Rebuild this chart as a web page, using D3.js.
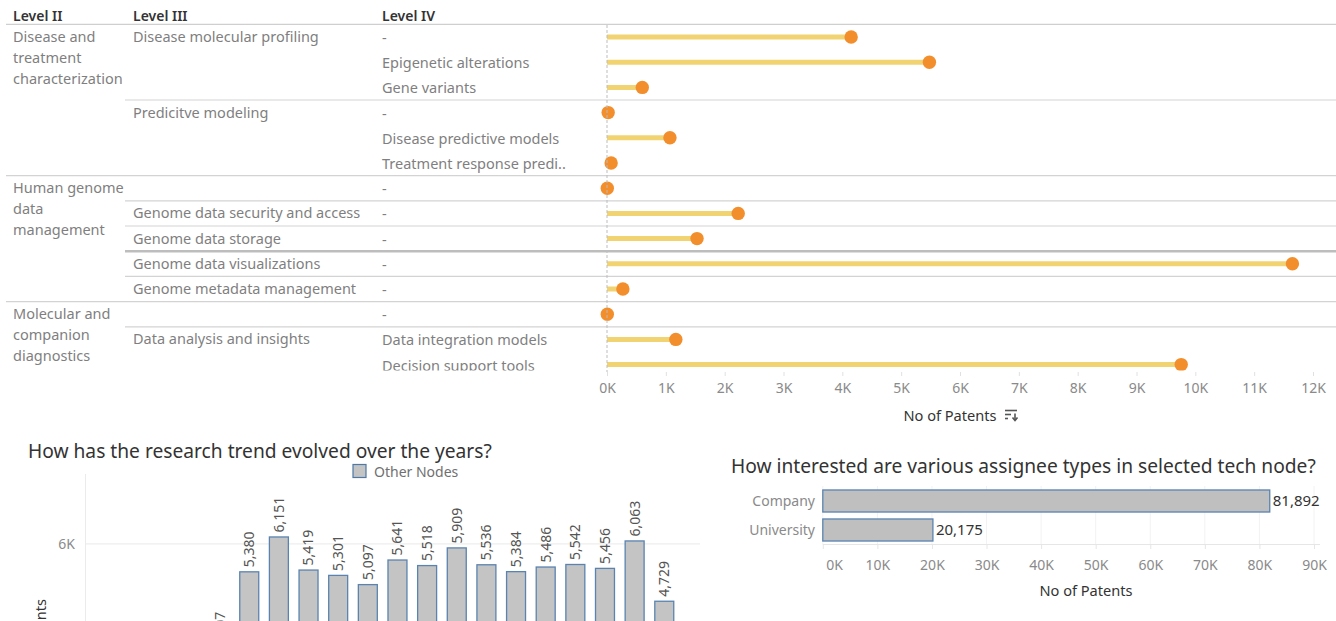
<!DOCTYPE html>
<html><head><meta charset="utf-8">
<script src="https://cdn.jsdelivr.net/npm/d3@7"></script>
<style>
html,body{margin:0;padding:0;background:#fff;overflow:hidden}
svg{display:block;font-family:"Noto Sans",sans-serif}
</style></head><body>
<svg id="c" width="1336" height="621"></svg>
<script>
// ---------- DATA ----------
const headerLabels = ["Level II", "Level III", "Level IV"];
const level2Labels = [
  "Disease and treatment characterization","Disease and treatment characterization","Disease and treatment characterization",
  "Disease and treatment characterization","Disease and treatment characterization","Disease and treatment characterization",
  "Human genome data management","Human genome data management","Human genome data management",
  "Human genome data management","Human genome data management",
  "Molecular and companion diagnostics","Molecular and companion diagnostics","Molecular and companion diagnostics"
];
const level3Labels = [
  "Disease molecular profiling","Disease molecular profiling","Disease molecular profiling",
  "Predicitve modeling","Predicitve modeling","Predicitve modeling",
  "","Genome data security and access","Genome data storage","Genome data visualizations","Genome metadata management",
  "","Data analysis and insights","Data analysis and insights"
];
const level4Labels = [
  "-","Epigenetic alterations","Gene variants",
  "-","Disease predictive models","Treatment response predi..",
  "-","-","-","-","-",
  "-","Data integration models","Decision support tools"
];
const nodePatents = [4150, 5480, 600, 20, 1070, 70, 5, 2230, 1530, 11650, 270, 5, 1170, 9760];
const nodeTicks = [0,1000,2000,3000,4000,5000,6000,7000,8000,9000,10000,11000,12000];
const nodeAxisTitle = "No of Patents";

const trendTitle = "How has the research trend evolved over the years?";
const trendLegend = "Other Nodes";
const years = [2005,2006,2007,2008,2009,2010,2011,2012,2013,2014,2015,2016,2017,2018,2019,2020,2021,2022,2023,2024];
const yearPatents = [1502,2118,2734,3215,3607,5380,6151,5419,5301,5097,5641,5518,5909,5536,5384,5486,5542,5456,6063,4729];
const trendTicks = [0,2000,4000,6000];

const assigneeTitle = "How interested are various assignee types in selected tech node?";
const assigneeTypes = ["Company","University"];
const assigneePatents = [81892, 20175];
const assigneeTicks = [0,10000,20000,30000,40000,50000,60000,70000,80000,90000];

// ---------- DRAW ----------
const svg = d3.select("#c");
const kFmt = d => (d/1000) + "K";
const numFmt = d3.format(",");
const LABEL = "#7f7f7f", DARK = "#333333";
const FS = 14.5;

// ===== Top lollipop table =====
const topG = svg.append("g");
const defs = svg.append("defs");
defs.append("clipPath").attr("id","topclip").append("rect")
  .attr("x",0).attr("y",0).attr("width",1336).attr("height",370.5);
const tbl = topG.append("g").attr("clip-path","url(#topclip)");

const x = d3.scaleLinear().domain([0,12000]).range([607,1313]);
const y = d3.scaleBand().domain(d3.range(nodePatents.length)).range([24.4, 24.4 + 25.2*nodePatents.length]);

// headers
const headerX = [13,133,382];
topG.selectAll("text.hdr").data(headerLabels).join("text")
  .attr("class","hdr").attr("x",(d,i)=>headerX[i]).attr("y",16).attr("dy","0.35em")
  .attr("font-size",14).attr("font-weight",600).attr("fill",DARK).text(d=>d);
topG.append("line").attr("x1",6).attr("x2",1336).attr("y1",24.4).attr("y2",24.4)
  .attr("stroke","#cfcfcf").attr("stroke-width",1.2);

// separators
for (let i=1;i<nodePatents.length;i++){
  let x1 = null;
  if (level2Labels[i]!==level2Labels[i-1]) x1 = 6;
  else if (level3Labels[i]!==level3Labels[i-1] || level3Labels[i]==="") x1 = 125;
  if (x1===null) continue;
  tbl.append("line").attr("x1",x1).attr("x2",1336).attr("y1",y(i)).attr("y2",y(i))
    .attr("stroke", i===9 ? "#bdbdbd" : "#d3d3d3").attr("stroke-width", i===9 ? 2.4 : 1.2);
}

// level II labels (wrapped)
function wrapLines(text, maxW){
  const words = text.split(" "), lines = [];
  const t = svg.append("text").attr("font-size",FS);
  let cur = "";
  words.forEach(w=>{
    const test = cur ? cur+" "+w : w;
    t.text(test);
    if (t.node().getComputedTextLength() > maxW && cur){ lines.push(cur); cur = w; }
    else cur = test;
  });
  if (cur) lines.push(cur);
  t.remove();
  return lines;
}
level2Labels.forEach((lab,i)=>{
  if (i>0 && level2Labels[i-1]===lab) return;
  const lines = wrapLines(lab, 114);
  const g = tbl.append("text").attr("font-size",FS).attr("fill",LABEL);
  lines.forEach((ln,j)=>{
    g.append("tspan").attr("x",13).attr("y", y(i)+y.bandwidth()/2 + j*20.8).attr("dy","0.35em").text(ln);
  });
});
// level III labels
level3Labels.forEach((lab,i)=>{
  if (i>0 && level3Labels[i-1]===lab) return;
  tbl.append("text").attr("x",133).attr("y",y(i)+y.bandwidth()/2).attr("dy","0.35em")
    .attr("font-size",FS).attr("fill",LABEL).text(lab);
});
// level IV labels
tbl.selectAll("text.l4").data(level4Labels).join("text").attr("class","l4")
  .attr("x",382).attr("y",(d,i)=>y(i)+y.bandwidth()/2+1).attr("dy","0.35em")
  .attr("font-size",FS).attr("fill",LABEL).text(d=>d);

// zero line
topG.append("line").attr("x1",x(0)).attr("x2",x(0)).attr("y1",25).attr("y2",372)
  .attr("stroke","#bdbdbd").attr("stroke-dasharray","3,2");

// lollipops
tbl.selectAll("line.stem").data(nodePatents).join("line").attr("class","stem")
  .attr("x1",x(0)).attr("x2",d=>x(d))
  .attr("y1",(d,i)=>y(i)+y.bandwidth()/2).attr("y2",(d,i)=>y(i)+y.bandwidth()/2)
  .attr("stroke","#f2d372").attr("stroke-width",5);
tbl.selectAll("circle.dot").data(nodePatents).join("circle").attr("class","dot")
  .attr("cx",d=>x(d)).attr("cy",(d,i)=>y(i)+y.bandwidth()/2).attr("r",6.7)
  .attr("fill","#f28e2b");

// x axis
const xa = topG.append("g").attr("transform","translate(0,372)")
  .call(d3.axisBottom(x).tickValues(nodeTicks).tickFormat(kFmt).tickSize(4).tickPadding(7));
xa.select(".domain").remove();
xa.selectAll(".tick line").attr("stroke","#e0e0e0");
xa.selectAll(".tick text").attr("font-size",14).attr("fill","#8a8a8a").attr("font-family","Noto Sans");
topG.append("text").attr("x",950).attr("y",416).attr("dy","0.35em").attr("text-anchor","middle")
  .attr("font-size",14.6).attr("fill",DARK).text(nodeAxisTitle);
// sort icon
const si = topG.append("g").attr("stroke","#555").attr("stroke-width",1.6);
si.append("line").attr("x1",1005).attr("x2",1017).attr("y1",410.5).attr("y2",410.5);
si.append("line").attr("x1",1005).attr("x2",1011).attr("y1",414.5).attr("y2",414.5);
si.append("line").attr("x1",1005).attr("x2",1008).attr("y1",418.5).attr("y2",418.5);
si.append("line").attr("x1",1015).attr("x2",1015).attr("y1",413.5).attr("y2",420);
si.append("path").attr("d","M1012.5,417.5 L1015,420.5 L1017.5,417.5").attr("fill","none");

// ===== Bottom-left bar chart =====
const bl = svg.append("g");
bl.append("text").attr("x",28).attr("y",451).attr("dy","0.35em").attr("font-size",19.2)
  .attr("fill",DARK).text(trendTitle);
bl.append("rect").attr("x",353).attr("y",464.5).attr("width",13).attr("height",13)
  .attr("fill","#c4c4c4").attr("stroke","#4e79a7").attr("stroke-width",1.2);
bl.append("text").attr("x",374).attr("y",472).attr("dy","0.35em").attr("font-size",14)
  .attr("fill","#707070").text(trendLegend);

const xb = d3.scaleBand().domain(years).range([86.2,679.1]).paddingInner(0.36).paddingOuter(0.18);
const yb = d3.scaleLinear().domain([0,7544]).range([815,474]);

bl.selectAll("line.grid").data(trendTicks).join("line").attr("class","grid")
  .attr("x1",85).attr("x2",700).attr("y1",d=>yb(d)).attr("y2",d=>yb(d))
  .attr("stroke","#eeeeee").attr("stroke-width",1.2);
bl.append("line").attr("x1",85.5).attr("x2",85.5).attr("y1",474).attr("y2",640).attr("stroke","#ebebeb");
const ya = bl.append("g").attr("transform","translate(85,0)")
  .call(d3.axisLeft(yb).tickValues(trendTicks).tickFormat(kFmt).tickSize(0).tickPadding(10));
ya.select(".domain").remove();
ya.selectAll(".tick text").attr("font-size",14).attr("fill","#8a8a8a").attr("font-family","Noto Sans");
bl.append("text").attr("transform","translate(46,599) rotate(-90)").attr("text-anchor","end")
  .attr("font-size",14.6).attr("fill",DARK).text("No of Patents");

bl.selectAll("rect.bar").data(yearPatents).join("rect").attr("class","bar")
  .attr("x",(d,i)=>xb(years[i])).attr("width",xb.bandwidth())
  .attr("y",d=>yb(d)).attr("height",d=>yb(0)-yb(d))
  .attr("fill","#c4c4c4").attr("stroke","#5a83b0").attr("stroke-width",1.3);
bl.selectAll("text.val").data(yearPatents).join("text").attr("class","val")
  .attr("transform",(d,i)=>`translate(${xb(years[i])+xb.bandwidth()/2},${yb(d)-4.5}) rotate(-90)`)
  .attr("dy","0.35em").attr("font-size",14).attr("fill","#555").text(d=>numFmt(d));

// ===== Bottom-right bar chart =====
const br = svg.append("g");
br.append("text").attr("x",731).attr("y",466).attr("dy","0.35em").attr("font-size",19.2)
  .attr("fill",DARK).text(assigneeTitle);
const xr = d3.scaleLinear().domain([0,90000]).range([822.8,1314]);
const yr = d3.scaleBand().domain(assigneeTypes).range([486.5,544.5]).paddingInner(0.24).paddingOuter(0.12);

br.selectAll("line.vg").data(assigneeTicks).join("line").attr("class","vg")
  .attr("x1",d=>xr(d)).attr("x2",d=>xr(d)).attr("y1",486).attr("y2",544)
  .attr("stroke","#f2f2f2");
const xra = br.append("g").attr("transform","translate(0,544)")
  .call(d3.axisBottom(xr).tickValues(assigneeTicks).tickFormat(kFmt).tickSize(5).tickPadding(11));
xra.select(".domain").attr("stroke","#e6e6e6").attr("d","M822.8,0.5H1320");
xra.selectAll(".tick line").attr("stroke","#e6e6e6");
xra.selectAll(".tick text").attr("font-size",14).attr("fill","#8a8a8a").attr("font-family","Noto Sans");
xra.selectAll(".tick text").filter(d=>d===0).attr("text-anchor","start").attr("dx",3);

br.selectAll("rect.hb").data(assigneePatents).join("rect").attr("class","hb")
  .attr("x",xr(0)).attr("y",(d,i)=>yr(assigneeTypes[i])).attr("height",yr.bandwidth())
  .attr("width",d=>xr(d)-xr(0))
  .attr("fill","#bfbfbf").attr("stroke","#5a83b0").attr("stroke-width",1.3);
br.selectAll("text.cat").data(assigneeTypes).join("text").attr("class","cat")
  .attr("x",815).attr("y",d=>yr(d)+yr.bandwidth()/2).attr("dy","0.35em").attr("text-anchor","end")
  .attr("font-size",14).attr("fill","#8a8a8a").text(d=>d);
br.selectAll("text.hv").data(assigneePatents).join("text").attr("class","hv")
  .attr("x",d=>xr(d)+3).attr("y",(d,i)=>yr(assigneeTypes[i])+yr.bandwidth()/2).attr("dy","0.35em")
  .attr("font-size",15).attr("fill",DARK).text(d=>numFmt(d));
br.append("text").attr("x",1086).attr("y",591).attr("dy","0.35em").attr("text-anchor","middle")
  .attr("font-size",14.6).attr("fill",DARK).text("No of Patents");
</script>
</body></html>
